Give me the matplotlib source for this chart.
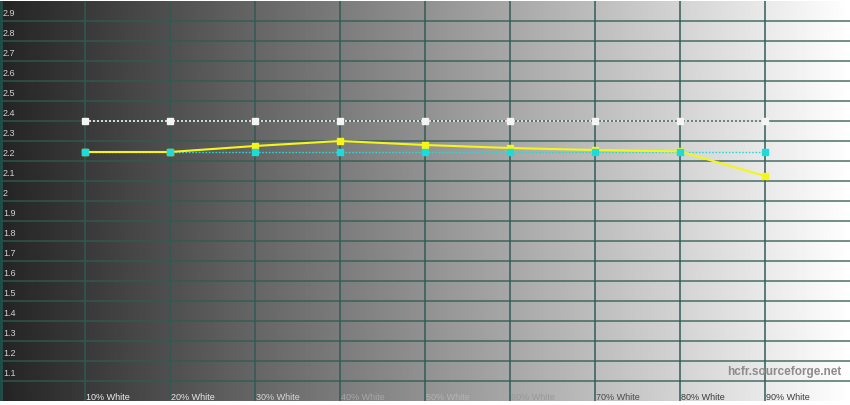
import numpy as np
import matplotlib
matplotlib.use("Agg")
import matplotlib.pyplot as plt

# data
levels = [10, 20, 30, 40, 50, 60, 70, 80, 90]
x_labels = ["10% White", "20% White", "30% White", "40% White", "50% White",
            "60% White", "70% White", "80% White", "90% White"]
gamma_measured = [2.245, 2.245, 2.275, 2.30, 2.28, 2.265, 2.255, 2.248, 2.125]
gamma_average = [2.245] * 9
gamma_target = [2.40] * 9
y_ticks = [2.9, 2.8, 2.7, 2.6, 2.5, 2.4, 2.3, 2.2, 2.1, 2.0,
           1.9, 1.8, 1.7, 1.6, 1.5, 1.4, 1.3, 1.2, 1.1]
y_tick_labels = ["2.9", "2.8", "2.7", "2.6", "2.5", "2.4", "2.3", "2.2", "2.1", "2",
                 "1.9", "1.8", "1.7", "1.6", "1.5", "1.4", "1.3", "1.2", "1.1"]

plt.rcParams["font.family"] = ["Liberation Sans", "DejaVu Sans"]

W, H = 850, 405
fig = plt.figure(figsize=(W / 100, H / 100), dpi=100, facecolor="white")
ax = fig.add_axes([0, 4 / H, 1, 400 / H])
ax.set_xlim(0, 100)
ax.set_ylim(1.0, 3.0)
ax.set_axis_off()

# background gradient
grad = np.linspace(0.14, 1.0, 512)
grad = np.tile(grad, (2, 1))
ax.imshow(grad, cmap="gray", vmin=0, vmax=1, aspect="auto",
          extent=[0, 100, 1.0, 3.0], zorder=0, interpolation="bilinear")

grid_col = "#2f5b53"
for v in levels:
    ax.axvline(v, color=grid_col, lw=1.2, alpha=0.9, zorder=1, snap=True)
for v in y_ticks:
    ax.axhline(v, color=grid_col, lw=1.2, alpha=0.8, zorder=1, snap=True)
ax.axvline(0.12, color="#1f4f4a", lw=2.0, zorder=1)

# y labels
for v, t in zip(y_ticks, y_tick_labels):
    ax.text(0.35, v + 0.014, t, color="#d0d0d0", fontsize=6.5,
            ha="left", va="bottom", zorder=3)

# x labels
xl_colors = ["#f0f0f0", "#e8e8e8", "#d8d8d8", "#a8a8a8", "#b4b4b4",
             "#999999", "#4a4a4a", "#3c3c3c", "#3c3c3c"]
for v, t, c in zip(levels, x_labels, xl_colors):
    ax.text(v + 0.15, 1.02, t, color=c, fontsize=6.5,
            ha="left", va="center", zorder=3)

# series
ax.plot(levels, gamma_target, color="#f2f2f2", ls=(0, (1.2, 1.2)), lw=1.2,
        marker="s", ms=4.5, mfc="#f4f4f4", mec="#f4f4f4", zorder=4)
ax.plot(levels, gamma_average, color="#2fd6d6", ls=(0, (1.2, 1.2)), lw=1.0,
        zorder=4)
ax.plot(levels, gamma_measured, color="#f5f51a", lw=1.5,
        marker="s", ms=4.5, mfc="#f5f51a", mec="#f5f51a", zorder=5)
ax.plot(levels, gamma_average, ls="none",
        marker="s", ms=4.5, mfc="#1fdada", mec="#1fdada", zorder=6)

ax.text(99.0, 1.145, "hcfr.sourceforge.net", color="#8c8c8c", fontsize=8.5,
        fontweight="bold", ha="right", va="center", zorder=3)

fig.savefig("out.png", dpi=100, facecolor="white")
